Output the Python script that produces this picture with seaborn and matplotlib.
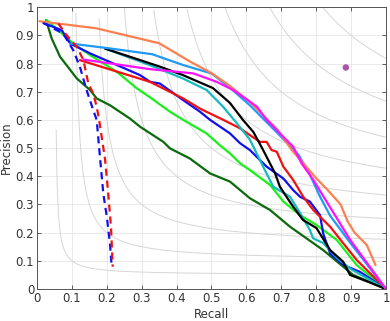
import numpy as np
import pandas as pd
import matplotlib
matplotlib.use("Agg")
import matplotlib.pyplot as plt
import seaborn as sns

# precision / recall curves
orange_r = [0.007, 0.17, 0.35, 0.44, 0.50, 0.55, 0.61, 0.69, 0.73, 0.80, 0.83, 0.87, 0.89, 0.91, 0.945, 0.97]
orange_p = [0.95, 0.925, 0.872, 0.806, 0.766, 0.723, 0.664, 0.564, 0.493, 0.393, 0.355, 0.30, 0.24, 0.20, 0.156, 0.085]

lblue_r = [0.095, 0.20, 0.33, 0.42, 0.50, 0.55, 0.61, 0.69, 0.75, 0.78, 0.81, 0.84, 0.90, 1.0]
lblue_p = [0.871, 0.855, 0.833, 0.794, 0.765, 0.717, 0.652, 0.552, 0.475, 0.411, 0.33, 0.26, 0.16, 0.0]

black_r = [0.195, 0.352, 0.418, 0.504, 0.553, 0.59, 0.62, 0.648, 0.682, 0.696, 0.715, 0.734, 0.762, 0.801, 0.84, 0.877, 0.897, 0.95, 1.0]
black_p = [0.853, 0.789, 0.759, 0.713, 0.66, 0.60, 0.557, 0.493, 0.411, 0.363, 0.327, 0.292, 0.245, 0.216, 0.138, 0.097, 0.05, 0.025, 0.0]

cyan_r = [0.195, 0.324, 0.418, 0.486, 0.533, 0.572, 0.61, 0.648, 0.677, 0.725, 0.754, 0.782, 0.791, 0.82, 0.86, 0.90, 1.0]
cyan_p = [0.853, 0.794, 0.747, 0.706, 0.647, 0.589, 0.53, 0.434, 0.363, 0.327, 0.269, 0.209, 0.18, 0.163, 0.11, 0.07, 0.0]

magenta_r = [0.133, 0.324, 0.448, 0.515, 0.562, 0.59, 0.63, 0.658, 0.687, 0.696, 0.734, 0.758, 0.792, 0.81, 0.897, 1.0]
magenta_p = [0.814, 0.78, 0.765, 0.735, 0.706, 0.682, 0.647, 0.60, 0.564, 0.552, 0.505, 0.446, 0.387, 0.35, 0.175, 0.0]

red_r = [0.123, 0.324, 0.419, 0.467, 0.534, 0.582, 0.61, 0.639, 0.658, 0.672, 0.687, 0.706, 0.734, 0.763, 0.792, 0.84, 0.877, 0.916, 1.0]
red_p = [0.812, 0.735, 0.676, 0.64, 0.60, 0.57, 0.546, 0.522, 0.522, 0.493, 0.487, 0.434, 0.387, 0.327, 0.28, 0.221, 0.163, 0.103, 0.0]

blue_r = [0.018, 0.071, 0.095, 0.152, 0.219, 0.295, 0.324, 0.352, 0.419, 0.467, 0.496, 0.553, 0.582, 0.61, 0.658, 0.706, 0.734, 0.754, 0.782, 0.811, 0.82, 0.84, 0.878, 0.925, 1.0]
blue_p = [0.944, 0.918, 0.871, 0.836, 0.80, 0.759, 0.735, 0.729, 0.67, 0.629, 0.60, 0.552, 0.517, 0.493, 0.434, 0.392, 0.351, 0.327, 0.31, 0.262, 0.197, 0.126, 0.085, 0.061, 0.0]

green_r = [0.028, 0.104, 0.152, 0.228, 0.286, 0.324, 0.381, 0.419, 0.486, 0.524, 0.553, 0.582, 0.61, 0.668, 0.706, 0.754, 0.801, 0.859, 0.916, 1.0]
green_p = [0.954, 0.871, 0.83, 0.771, 0.712, 0.68, 0.629, 0.60, 0.552, 0.51, 0.481, 0.446, 0.422, 0.369, 0.31, 0.262, 0.227, 0.174, 0.085, 0.0]

dgreen_r = [0.026, 0.042, 0.066, 0.114, 0.152, 0.171, 0.209, 0.266, 0.295, 0.362, 0.381, 0.438, 0.496, 0.553, 0.582, 0.61, 0.668, 0.725, 0.82, 0.906, 1.0]
dgreen_p = [0.954, 0.889, 0.824, 0.747, 0.706, 0.676, 0.652, 0.605, 0.576, 0.522, 0.499, 0.463, 0.41, 0.381, 0.351, 0.322, 0.28, 0.221, 0.138, 0.05, 0.0]

bdash_r = [0.018, 0.075, 0.104, 0.123, 0.142, 0.161, 0.171, 0.181, 0.19, 0.20, 0.209, 0.214]
bdash_p = [0.944, 0.906, 0.847, 0.788, 0.706, 0.635, 0.60, 0.46, 0.339, 0.256, 0.162, 0.079]

rdash_r = [0.061, 0.085, 0.114, 0.133, 0.147, 0.161, 0.171, 0.178, 0.195, 0.204, 0.212, 0.217]
rdash_p = [0.942, 0.90, 0.859, 0.812, 0.729, 0.694, 0.647, 0.60, 0.46, 0.339, 0.221, 0.079]

human_r = [0.885]
human_p = [0.786]

iso_f = [0.1, 0.2, 0.3, 0.4, 0.5, 0.6, 0.7, 0.8, 0.9]

sns.set_theme(style="white")
plt.rcParams['font.family'] = ['DejaVu Sans']

fig = plt.figure(figsize=(3.9, 3.21), dpi=100)
ax = fig.add_axes([0.0949, 0.0997, 0.8948, 0.878])

# iso-F contours
for f in iso_f:
    r = np.linspace(f / 2 + 1e-4, 1, 400)
    p = f * r / (2 * r - f)
    keep = (p >= 0) & (p <= 1)
    ax.plot(r[keep], p[keep], color="#d6d6d6", lw=0.7, zorder=1)

curves = [
    (dgreen_r, dgreen_p, "#0b6a0b", "-"),
    (green_r, green_p, "#19f019", "-"),
    (blue_r, blue_p, "#1010ee", "-"),
    (red_r, red_p, "#f01010", "-"),
    (cyan_r, cyan_p, "#15b9c0", "-"),
    (black_r, black_p, "#000000", "-"),
    (lblue_r, lblue_p, "#1f9af5", "-"),
    (orange_r, orange_p, "#fd7f4f", "-"),
    (magenta_r, magenta_p, "#ff10ff", "-"),
    (bdash_r, bdash_p, "#1010ee", "--"),
    (rdash_r, rdash_p, "#f01010", "--"),
]
for r, p, c, ls in curves:
    df = pd.DataFrame({"Recall": r, "Precision": p})
    sns.lineplot(data=df, x="Recall", y="Precision", sort=False, estimator=None,
                 color=c, lw=1.6, ax=ax, zorder=3)
    if ls == "--":
        ax.lines[-1].set_dashes((3.2, 2.2))

sns.scatterplot(x=human_r, y=human_p, color="#a855aa", s=22, edgecolor="none", ax=ax, zorder=4)

ticks = np.round(np.arange(0, 1.01, 0.1), 1)
labels = ["0"] + [f"{t:.1f}" for t in ticks[1:-1]] + ["1"]
ax.set_xlim(0, 1)
ax.set_ylim(0, 1)
ax.set_xticks(ticks)
ax.set_yticks(ticks)
ax.set_xticklabels(labels, fontsize=8.5, color="#333333")
ax.set_yticklabels(labels, fontsize=8.5, color="#333333")
ax.grid(True, color="#e6e6e6", lw=0.6, zorder=0)
ax.tick_params(direction="in", length=3, width=0.6, color="#444444",
               top=True, right=True, bottom=True, left=True, pad=2)
for s in ax.spines.values():
    s.set_color("#555555")
    s.set_linewidth(0.7)
ax.set_xlabel("Recall", fontsize=8.5, color="#333333", labelpad=2)
ax.set_ylabel("Precision", fontsize=8.5, color="#333333", labelpad=2)

fig.savefig("out.png", dpi=100)
